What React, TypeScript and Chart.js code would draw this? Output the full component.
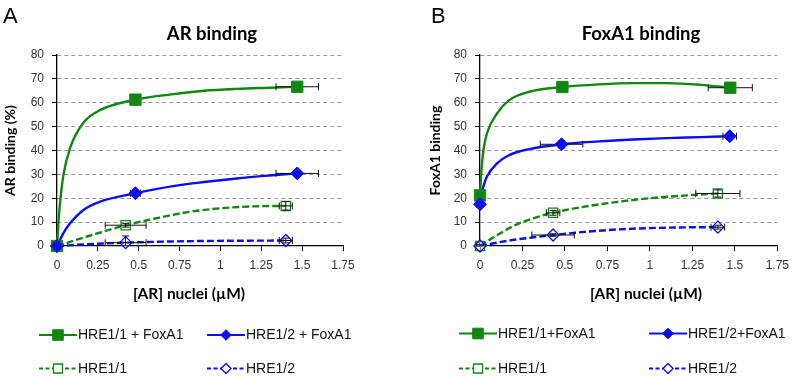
import React, { useEffect, useRef } from 'react';
import { Chart, registerables } from 'chart.js';

Chart.register(...registerables);

// ---------- shared axis data ----------
const xTickValues = [0, 0.25, 0.5, 0.75, 1, 1.25, 1.5, 1.75];
const xTickLabels = ['0', '0.25', '0.5', '0.75', '1', '1.25', '1.5', '1.75'];
const yTickValues = [0, 10, 20, 30, 40, 50, 60, 70, 80];

// ---------- Panel A (AR binding) ----------
const seriesNamesA = ['HRE1/1 + FoxA1', 'HRE1/2 + FoxA1', 'HRE1/1', 'HRE1/2'];

// measured points
const aX_11F = [0, 0.48, 1.47];
const aY_11F = [0, 61.3, 66.7];
const aXErr_11F = [0, 0.02, 0.13];
const aYErr_11F = [0, 0, 0];

const aX_12F = [0, 0.48, 1.47];
const aY_12F = [0, 22.1, 30.4];
const aXErr_12F = [0, 0.03, 0.13];
const aYErr_12F = [0, 1, 0.5];

const aX_11 = [0, 0.42, 1.4];
const aY_11 = [0, 8.7, 16.8];
const aXErr_11 = [0, 0.125, 0.04];
const aYErr_11 = [0, 0.8, 1.8];

const aX_12 = [0, 0.42, 1.4];
const aY_12 = [0, 1.4, 2.3];
const aXErr_12 = [0, 0.125, 0.04];
const aYErr_12 = [0, 2.8, 1];

// fitted curves
const aFitX_11F = [0, 0.01, 0.02, 0.04, 0.08, 0.16, 0.26, 0.48, 0.7, 0.9, 1.1, 1.3, 1.47];
const aFitY_11F = [0, 11, 19, 30, 41, 51.5, 56.8, 61.3, 63.5, 65, 65.8, 66.3, 66.7];
const aFitX_12F = [0, 0.04, 0.08, 0.16, 0.26, 0.48, 0.7, 0.9, 1.1, 1.3, 1.47];
const aFitY_12F = [0, 5.5, 9.5, 15, 18.5, 22.1, 25, 26.8, 28.3, 29.5, 30.4];
const aFitX_11 = [0, 0.2, 0.42, 0.6, 0.8, 1.0, 1.2, 1.4];
const aFitY_11 = [0, 4.3, 8.7, 11.5, 14.2, 15.8, 16.6, 16.8];
const aFitX_12 = [0, 0.2, 0.42, 0.7, 0.9, 1.1, 1.4];
const aFitY_12 = [0, 0.8, 1.4, 1.9, 2.1, 2.2, 2.3];

// ---------- Panel B (FoxA1 binding) ----------
const seriesNamesB = ['HRE1/1+FoxA1', 'HRE1/2+FoxA1', 'HRE1/1', 'HRE1/2'];

const bX_11F = [0, 0.485, 1.473];
const bY_11F = [21.2, 66.6, 66.3];
const bXErr_11F = [0, 0.03, 0.13];
const bYErr_11F = [0, 0, 0];

const bX_12F = [0, 0.48, 1.47];
const bY_12F = [17.5, 42.6, 46.0];
const bXErr_12F = [0, 0.125, 0.04];
const bYErr_12F = [0, 1.5, 0.5];

const bX_11 = [0, 0.43, 1.4];
const bY_11 = [0, 13.9, 22.0];
const bXErr_11 = [0, 0.04, 0.13];
const bYErr_11 = [0, 1, 1.5];

const bX_12 = [0, 0.43, 1.4];
const bY_12 = [0, 4.6, 7.9];
const bXErr_12 = [0.02, 0.125, 0.04];
const bYErr_12 = [0.5, 0.5, 0.8];

const bFitX_11F = [0, 0.005, 0.01, 0.02, 0.04, 0.1, 0.17, 0.29, 0.485, 0.7, 0.9, 1.1, 1.3, 1.473];
const bFitY_11F = [21.2, 28, 33, 40, 47, 55.5, 61, 64.6, 66.6, 67.7, 68.2, 68.2, 67.5, 66.3];
const bFitX_12F = [0, 0.01, 0.02, 0.04, 0.1, 0.17, 0.29, 0.48, 0.7, 0.9, 1.1, 1.3, 1.47];
const bFitY_12F = [17.5, 22, 25, 29, 34.6, 38, 40.6, 42.6, 43.8, 44.6, 45.2, 45.6, 46];
const bFitX_11 = [0, 0.1, 0.2, 0.3, 0.43, 0.6, 0.8, 1.0, 1.2, 1.4];
const bFitY_11 = [0, 4.5, 8.5, 11.3, 13.9, 16.3, 18.4, 20, 21.1, 22];
const bFitX_12 = [0, 0.1, 0.2, 0.3, 0.43, 0.6, 0.8, 1.0, 1.2, 1.4];
const bFitY_12 = [0, 1.4, 2.6, 3.5, 4.6, 5.8, 6.9, 7.5, 7.8, 7.9];

// ---------- styles ----------
const GREEN = '#128612';
const BLUE = '#0c0cf0';

type Style = { color: string; dash: number[]; shape: 'square' | 'diamond'; filled: boolean; radius: number; order: number };
const STYLES: Style[] = [
  { color: GREEN, dash: [], shape: 'square', filled: true, radius: 8, order: 1 },
  { color: BLUE, dash: [], shape: 'diamond', filled: true, radius: 6.5, order: 0 },
  { color: GREEN, dash: [7, 3], shape: 'square', filled: false, radius: 6.5, order: 3 },
  { color: BLUE, dash: [7, 3], shape: 'diamond', filled: false, radius: 6, order: 2 },
];

const zip = (xs: number[], ys: number[]) => xs.map((x, i) => ({ x, y: ys[i] }));

type Series = { x: number[]; y: number[]; xErr: number[]; yErr: number[]; fitX: number[]; fitY: number[] };

const seriesA: Series[] = [
  { x: aX_11F, y: aY_11F, xErr: aXErr_11F, yErr: aYErr_11F, fitX: aFitX_11F, fitY: aFitY_11F },
  { x: aX_12F, y: aY_12F, xErr: aXErr_12F, yErr: aYErr_12F, fitX: aFitX_12F, fitY: aFitY_12F },
  { x: aX_11, y: aY_11, xErr: aXErr_11, yErr: aYErr_11, fitX: aFitX_11, fitY: aFitY_11 },
  { x: aX_12, y: aY_12, xErr: aXErr_12, yErr: aYErr_12, fitX: aFitX_12, fitY: aFitY_12 },
];
const seriesB: Series[] = [
  { x: bX_11F, y: bY_11F, xErr: bXErr_11F, yErr: bYErr_11F, fitX: bFitX_11F, fitY: bFitY_11F },
  { x: bX_12F, y: bY_12F, xErr: bXErr_12F, yErr: bYErr_12F, fitX: bFitX_12F, fitY: bFitY_12F },
  { x: bX_11, y: bY_11, xErr: bXErr_11, yErr: bYErr_11, fitX: bFitX_11, fitY: bFitY_11 },
  { x: bX_12, y: bY_12, xErr: bXErr_12, yErr: bYErr_12, fitX: bFitX_12, fitY: bFitY_12 },
];

// ---------- plugins ----------
function drawErrorBars(chart: any, index: number) {
  const ds: any = chart.data.datasets[index];
  if (!ds.xErr) return;
  const xs = chart.scales.x;
  const ys = chart.scales.y;
  const ctx = chart.ctx;
  const area = chart.chartArea;
  ctx.save();
  ctx.beginPath();
  ctx.rect(area.left - 10, area.top, area.right - area.left + 20, area.bottom - area.top);
  ctx.clip();
  ctx.strokeStyle = '#111';
  ctx.lineWidth = 1;
  ctx.setLineDash([]);
  const cap = 3.5;
  ds.data.forEach((p: any, i: number) => {
    const ex = ds.xErr[i];
    const ey = ds.yErr[i];
    const py = ys.getPixelForValue(p.y);
    const px = xs.getPixelForValue(p.x);
    if (ex > 0) {
      const x1 = xs.getPixelForValue(p.x - ex);
      const x2 = xs.getPixelForValue(p.x + ex);
      ctx.beginPath();
      ctx.moveTo(x1, py); ctx.lineTo(x2, py);
      ctx.moveTo(x1, py - cap); ctx.lineTo(x1, py + cap);
      ctx.moveTo(x2, py - cap); ctx.lineTo(x2, py + cap);
      ctx.stroke();
    }
    if (ey > 0) {
      const y1 = ys.getPixelForValue(p.y - ey);
      const y2 = ys.getPixelForValue(p.y + ey);
      ctx.beginPath();
      ctx.moveTo(px, y1); ctx.lineTo(px, y2);
      ctx.moveTo(px - cap, y1); ctx.lineTo(px + cap, y1);
      ctx.moveTo(px - cap, y2); ctx.lineTo(px + cap, y2);
      ctx.stroke();
    }
  });
  ctx.restore();
}

const errorBarPlugin = {
  id: 'errorBars',
  beforeDatasetDraw(chart: any, args: any) {
    const ds: any = chart.data.datasets[args.index];
    if (ds.xErr && !ds.errOnTop) drawErrorBars(chart, args.index);
  },
  afterDatasetDraw(chart: any, args: any) {
    const ds: any = chart.data.datasets[args.index];
    if (ds.xErr && ds.errOnTop) drawErrorBars(chart, args.index);
  },
};

function drawShape(ctx: CanvasRenderingContext2D, st: Style, x: number, y: number, half: number) {
  ctx.save();
  ctx.setLineDash([]);
  ctx.beginPath();
  if (st.shape === 'square') {
    ctx.rect(x - half, y - half, half * 2, half * 2);
  } else {
    ctx.moveTo(x, y - half);
    ctx.lineTo(x + half, y);
    ctx.lineTo(x, y + half);
    ctx.lineTo(x - half, y);
    ctx.closePath();
  }
  ctx.fillStyle = st.filled ? st.color : '#ffffff';
  ctx.fill();
  ctx.strokeStyle = st.color;
  ctx.lineWidth = st.filled ? 1 : 1.3;
  ctx.stroke();
  ctx.restore();
}

const panelTextPlugin = {
  id: 'panelText',
  afterDraw(chart: any, _args: any, opts: any) {
    const ctx: CanvasRenderingContext2D = chart.ctx;
    ctx.save();
    ctx.fillStyle = '#000';
    // panel letter
    ctx.font = '22px "Liberation Sans", Arial, sans-serif';
    ctx.textAlign = 'left';
    ctx.textBaseline = 'alphabetic';
    ctx.fillText(opts.letter, opts.letterX, 23);
    // title
    ctx.font = 'bold 18.5px Lato, "Open Sans", sans-serif';
    ctx.textAlign = 'center';
    ctx.fillText(opts.title, opts.titleX, 40);
    // x axis title
    ctx.font = 'bold 15.5px Lato, "Open Sans", sans-serif';
    ctx.fillText(opts.xTitle, opts.xTitleX, 298.5);
    // legend
    const names: string[] = opts.names;
    names.forEach((name, k) => {
      const st = STYLES[k];
      const lx = opts.legendCols[k % 2];
      const ly = opts.legendRows[Math.floor(k / 2)];
      ctx.save();
      ctx.strokeStyle = st.color;
      ctx.lineWidth = 2;
      ctx.setLineDash(st.dash.length ? [4, 2.5] : []);
      ctx.beginPath();
      ctx.moveTo(lx, ly);
      ctx.lineTo(lx + 38, ly);
      ctx.stroke();
      ctx.restore();
      const half = st.shape === 'square' ? (st.filled ? 5.3 : 4.5) : (st.filled ? 5.3 : 5);
      drawShape(ctx, st, lx + 19, ly, half);
      ctx.fillStyle = '#111';
      ctx.font = '14px "Liberation Sans", Arial, sans-serif';
      ctx.textAlign = 'left';
      ctx.textBaseline = 'middle';
      ctx.fillText(name, lx + 39, ly + 0.5);
    });
    ctx.restore();
  },
};

type PanelCfg = {
  names: string[];
  series: Series[];
  yTitle: string;
  letter: string;
  letterX: number;
  title: string;
  titleX: number;
  xTitle: string;
  xTitleX: number;
  legendCols: number[];
  legendRows: number[];
  left: number;
  right: number;
  yTitleCenter: number;
};

const panelA: PanelCfg = {
  names: seriesNamesA,
  series: seriesA,
  yTitle: 'AR binding (%)',
  letter: 'A',
  letterX: 3,
  title: 'AR binding',
  titleX: 212,
  xTitle: '[AR] nuclei (µM)',
  xTitleX: 189,
  legendCols: [39, 207],
  legendRows: [335, 368.5],
  left: 57,
  right: 343,
  yTitleCenter: 10,
};

const panelB: PanelCfg = {
  names: seriesNamesB,
  series: seriesB,
  yTitle: 'FoxA1 binding',
  letter: 'B',
  letterX: 33,
  title: 'FoxA1 binding',
  titleX: 243,
  xTitle: '[AR] nuclei (µM)',
  xTitleX: 248,
  legendCols: [61, 251],
  legendRows: [333.5, 368.5],
  left: 82,
  right: 384,
  yTitleCenter: 37,
};

const W = 398;
const H = 377;
const TOP = 55;
const BOTTOM = 246;

function Panel({ cfg }: { cfg: PanelCfg }) {
  const ref = useRef<HTMLCanvasElement | null>(null);
  useEffect(() => {
    if (!ref.current) return;
    const datasets: any[] = [];
    cfg.series.forEach((s, i) => {
      const st = STYLES[i];
      datasets.push({
        label: cfg.names[i],
        data: zip(s.x, s.y),
        xErr: s.xErr,
        yErr: s.yErr,
        errOnTop: !st.filled,
        showLine: false,
        pointStyle: st.shape === 'square' ? 'rect' : 'rectRot',
        pointRadius: st.radius,
        pointHoverRadius: st.radius,
        pointBackgroundColor: st.filled ? st.color : 'rgba(255,255,255,0.25)',
        pointBorderColor: st.color,
        pointBorderWidth: st.filled ? 1 : 1.3,
        clip: false,
        order: st.order,
      });
    });
    cfg.series.forEach((s, i) => {
      const st = STYLES[i];
      datasets.push({
        label: cfg.names[i] + ' fit',
        data: zip(s.fitX, s.fitY),
        showLine: true,
        pointRadius: 0,
        pointHoverRadius: 0,
        borderColor: st.color,
        borderWidth: 2.4,
        borderDash: st.dash,
        tension: 0.4,
        cubicInterpolationMode: 'monotone',
        fill: false,
        clip: 4,
        order: 10 + st.order,
      });
    });

    const chart = new Chart(ref.current, {
      type: 'scatter',
      data: { datasets },
      plugins: [errorBarPlugin, panelTextPlugin],
      options: {
        animation: false,
        responsive: false,
        events: [],
        layout: { padding: { top: TOP, left: 0, right: W - cfg.right, bottom: 0 } },
        plugins: {
          legend: { display: false },
          tooltip: { enabled: false },
          title: { display: false },
          panelText: {
            letter: cfg.letter,
            letterX: cfg.letterX,
            title: cfg.title,
            titleX: cfg.titleX,
            xTitle: cfg.xTitle,
            xTitleX: cfg.xTitleX,
            names: cfg.names,
            legendCols: cfg.legendCols,
            legendRows: cfg.legendRows,
          },
        } as any,
        scales: {
          x: {
            type: 'linear',
            min: 0,
            max: 1.75,
            afterFit: (scale: any) => { scale.height = H - BOTTOM; },
            afterBuildTicks: (scale: any) => { scale.ticks = xTickValues.map((v) => ({ value: v })); },
            ticks: {
              autoSkip: false,
              maxRotation: 0,
              padding: 7,
              color: '#333',
              font: { family: '"Liberation Sans", Arial, sans-serif', size: 12 },
              callback: (_v: any, i: number) => xTickLabels[i],
            },
            grid: { drawOnChartArea: false, drawTicks: true, tickLength: 5, tickColor: '#000', color: '#000' },
            border: { display: true, color: '#000', width: 1.3 },
          },
          y: {
            type: 'linear',
            min: 0,
            max: 80,
            afterFit: (scale: any) => { scale.width = cfg.left; },
            afterBuildTicks: (scale: any) => { scale.ticks = yTickValues.map((v) => ({ value: v })); },
            ticks: {
              padding: 8,
              color: '#333',
              font: { family: '"Liberation Sans", Arial, sans-serif', size: 12 },
              callback: (v: any) => String(v),
            },
            grid: {
              drawTicks: true,
              tickLength: 5,
              tickColor: '#000',
              tickBorderDash: [],
              color: (c: any) => (c.tick && c.tick.value === 0 ? 'rgba(0,0,0,0)' : '#999999'),
              lineWidth: 1,
            },
            border: { display: true, color: '#000', width: 1.3, dash: [4, 3] },
            title: {
              display: true,
              text: cfg.yTitle,
              color: '#000',
              font: { family: 'Lato, "Open Sans", sans-serif', size: 14, weight: 'bold' },
              padding: { top: cfg.yTitleCenter - 8.4, bottom: 0 },
            },
          },
        },
      } as any,
    });
    return () => chart.destroy();
  }, [cfg]);
  return (
    <div style={{ width: W, height: H, position: 'relative' }}>
      <canvas ref={ref} width={W} height={H} style={{ display: 'block', width: W, height: H }} />
    </div>
  );
}

export default function App() {
  return (
    <div style={{ position: 'fixed', left: 0, top: 0, width: 796, height: 377, background: '#fff', display: 'flex' }}>
      <Panel cfg={panelA} />
      <Panel cfg={panelB} />
    </div>
  );
}
